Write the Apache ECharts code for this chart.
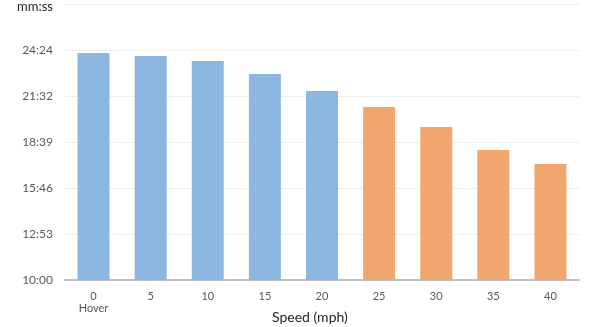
<!DOCTYPE html>
<html>
<head>
<meta charset="utf-8">
<script src="https://cdn.jsdelivr.net/npm/echarts@6/dist/echarts.min.js"></script>
<style>
  html, body { margin: 0; padding: 0; background: #fff; }
  #chart { width: 594px; height: 327px; }
</style>
</head>
<body>
<div id="chart"></div>
<script>
// Flight time (seconds) by airspeed
const speeds = ['0\nHover', '5', '10', '15', '20', '25', '30', '35', '40'];
const flightSeconds = [1453, 1441, 1423, 1374, 1310, 1250, 1175, 1088, 1036];
// Speeds from 25 mph upward are drawn in orange
const fastFrom = 5;
const yTickLabels = ['10:00', '12:53', '15:46', '18:39', '21:32', '24:24', ''];
const yMin = 600;          // 10:00
const yStep = 172.8;       // 0.002 day
const yTicks = 6;

const blue = '#8CB7E1';
const orange = '#F1A66F';

const chart = echarts.init(document.getElementById('chart'), null, { renderer: 'canvas' });
chart.setOption({
  animation: false,
  title: [
    { text: 'mm:ss', left: 17, top: 0, padding: 0,
      textStyle: { fontFamily: 'Lato, sans-serif', fontSize: 13, fontWeight: 'normal', color: '#262626' } },
    { text: 'Speed (mph)', left: 272, top: 310, padding: 0,
      textStyle: { fontFamily: 'Lato, sans-serif', fontSize: 14, fontWeight: 'normal', color: '#262626' } }
  ],
  grid: { left: 65, right: 15, top: 4, bottom: 47, containLabel: false },
  xAxis: {
    type: 'category',
    data: speeds,
    axisLine: { lineStyle: { color: '#BFBFBF', width: 2 } },
    axisTick: { show: false },
    axisLabel: { color: '#595959', fontFamily: 'Lato, sans-serif', fontSize: 11, margin: 10, lineHeight: 12 }
  },
  yAxis: {
    type: 'value',
    min: yMin,
    max: yMin + yStep * yTicks,
    interval: yStep,
    axisLine: { show: false },
    axisTick: { show: false },
    splitLine: { lineStyle: { color: '#EEEEEE', width: 1 } },
    axisLabel: {
      color: '#595959', fontFamily: 'Lato, sans-serif', fontSize: 12, margin: 12,
      formatter: (v) => yTickLabels[Math.round((v - yMin) / yStep)] || ''
    }
  },
  series: [{
    type: 'bar',
    barCategoryGap: '44%',
    data: flightSeconds.map((v, i) => ({
      value: v,
      itemStyle: { color: i >= fastFrom ? orange : blue }
    }))
  }]
});
</script>
</body>
</html>
